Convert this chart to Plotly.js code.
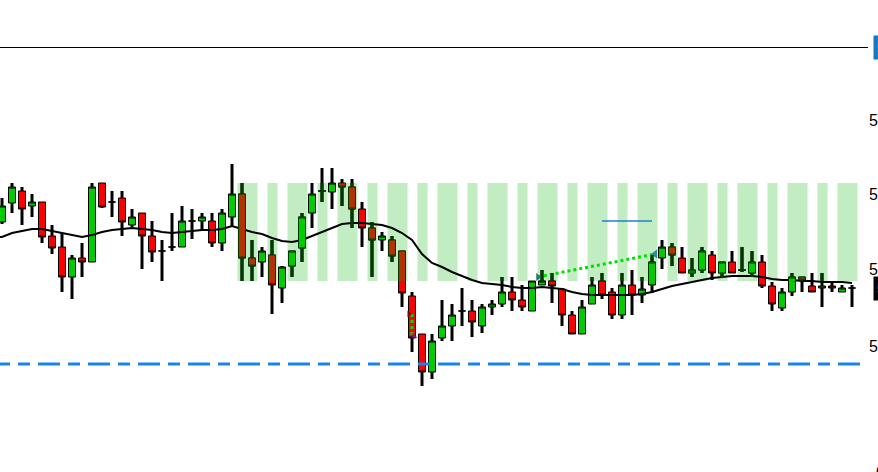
<!DOCTYPE html>
<html>
<head>
<meta charset="utf-8">
<script src="https://cdn.plot.ly/plotly-3.0.1.min.js"></script>
<style>
html,body{margin:0;padding:0;background:#ffffff;overflow:hidden;}
#chart{width:878px;height:472px;}
</style>
</head>
<body>
<div id="chart"></div>
<script>
// ---- data ----
const opens = [5.4778,5.4797,5.4809,5.4794,5.4798,5.4764,5.4753,5.4723,5.4742,5.4738,
  5.4817,5.4798,5.4802,5.4775,5.4787,5.4764,5.4749,5.4753,5.4753,5.4779,
  5.4779,5.4779,5.4757,5.4783,5.4806,5.4742,5.4738,5.4745,5.4712,5.4734,
  5.4752,5.4787,5.4809,5.4808,5.4817,5.4813,5.4791,5.4772,5.4760,5.4760,
  5.4749,5.4704,5.4666,5.4628,5.4662,5.4674,5.4689,5.4689,5.4674,5.4693,
  5.4696,5.4708,5.4700,5.4689,5.4715,5.4719,5.4711,5.4685,5.4666,5.4696,
  5.4719,5.4708,5.4685,5.4715,5.4705,5.4715,5.4742,5.4753,5.4742,5.4727,
  5.4730,5.4745,5.4727,5.4738,5.4730,5.4727,5.4738,5.4714,5.4692,5.4708,
  5.4723,5.4714,5.4712,5.4714,5.4708,5.4712];
const highs = [5.4802,5.4817,5.4813,5.4806,5.4798,5.4775,5.4767,5.4745,5.4757,5.4817,
  5.4817,5.4809,5.4809,5.4791,5.4787,5.4779,5.4760,5.4787,5.4794,5.4791,
  5.4787,5.4787,5.4791,5.4836,5.4817,5.4760,5.4753,5.4760,5.4734,5.4749,
  5.4787,5.4817,5.4832,5.4832,5.4821,5.4821,5.4798,5.4778,5.4768,5.4764,
  5.4749,5.4708,5.4666,5.4666,5.4700,5.4696,5.4712,5.4700,5.4696,5.4700,
  5.4723,5.4723,5.4715,5.4719,5.4730,5.4727,5.4712,5.4689,5.4700,5.4723,
  5.4727,5.4712,5.4727,5.4730,5.4723,5.4745,5.4760,5.4757,5.4753,5.4742,
  5.4753,5.4749,5.4738,5.4749,5.4753,5.4749,5.4745,5.4718,5.4712,5.4727,
  5.4723,5.4727,5.4727,5.4718,5.4715,5.4715];
const lows = [5.4776,5.4787,5.4775,5.4783,5.4757,5.4746,5.4708,5.4701,5.4723,5.4738,
  5.4792,5.4783,5.4764,5.4773,5.4731,5.4738,5.4719,5.4749,5.4753,5.4761,
  5.4770,5.4753,5.4749,5.4773,5.4719,5.4719,5.4723,5.4686,5.4697,5.4723,
  5.4738,5.4772,5.4798,5.4791,5.4794,5.4772,5.4753,5.4723,5.4749,5.4738,
  5.4693,5.4648,5.4614,5.4621,5.4659,5.4659,5.4674,5.4663,5.4667,5.4685,
  5.4693,5.4689,5.4689,5.4689,5.4715,5.4697,5.4674,5.4666,5.4666,5.4696,
  5.4701,5.4681,5.4681,5.4685,5.4697,5.4707,5.4731,5.4734,5.4727,5.4723,
  5.4727,5.4720,5.4722,5.4727,5.4728,5.4723,5.4712,5.4689,5.4689,5.4704,
  5.4708,5.4708,5.4693,5.4708,5.4708,5.4693];
const closes = [5.4794,5.4813,5.4791,5.4798,5.4763,5.4752,5.4723,5.4742,5.4738,5.4813,
  5.4793,5.4798,5.4778,5.4783,5.4764,5.4748,5.4749,5.4753,5.4779,5.4779,
  5.4783,5.4757,5.4787,5.4806,5.4742,5.4734,5.4749,5.4715,5.4733,5.4749,
  5.4783,5.4806,5.4809,5.4817,5.4813,5.4791,5.4772,5.4760,5.4764,5.4744,
  5.4707,5.4662,5.4628,5.4659,5.4674,5.4685,5.4689,5.4678,5.4693,5.4696,
  5.4708,5.4700,5.4693,5.4719,5.4719,5.4714,5.4685,5.4666,5.4693,5.4715,
  5.4705,5.4685,5.4715,5.4705,5.4711,5.4738,5.4753,5.4745,5.4727,5.4730,
  5.4749,5.4727,5.4738,5.4727,5.4730,5.4738,5.4714,5.4696,5.4708,5.4723,
  5.4720,5.4708,5.4714,5.4712,5.4712,5.4712];
const movingAvg = [5.4763,5.4767,5.4769,5.4771,5.4771,5.4769,5.4767,5.4765,5.4763,5.4765,
  5.4768,5.4770,5.4771,5.4772,5.4771,5.4770,5.4768,5.4767,5.4768,5.4769,
  5.4770,5.4770,5.4771,5.4774,5.4771,5.4768,5.4766,5.4762,5.4759,5.4758,
  5.4760,5.4764,5.4768,5.4772,5.4776,5.4777,5.4777,5.4776,5.4775,5.4772,
  5.4767,5.4760,5.4746,5.4737,5.4733,5.4728,5.4724,5.4720,5.4717,5.4716,
  5.4715,5.4713,5.4712,5.4712,5.4713,5.4712,5.4711,5.4708,5.4706,5.4705,
  5.4705,5.4705,5.4705,5.4705,5.4706,5.4708,5.4711,5.4714,5.4716,5.4718,
  5.4720,5.4722,5.4723,5.4724,5.4724,5.4724,5.4723,5.4721,5.4720,5.4720,
  5.4719,5.4719,5.4718,5.4718,5.4718,5.4717];
// shaded session columns: [first bar, last bar]
const bandGroups = [[24,25],[27,27],[29,30],[32,32],[34,35],[37,37],[39,40],[42,42],[44,45],
  [47,47],[49,50],[52,52],[54,55],[57,57],[59,60],[62,62],[64,65],[67,67],[69,70],[72,72],
  [74,75],[77,77],[79,80],[82,82],[84,85]];
const bandTop = 5.4817, bandBottom = 5.4719;
// levels and drawn objects
const topLevel = 5.49525;
const dashedLevel = 5.4636;
const shortLevelX = [60, 65], shortLevelY = [5.4779, 5.4779];
const trendX = [53.6, 65.3], trendY = [5.4723, 5.4746];
const vTrendX = [41, 41], vTrendY = [5.4686, 5.4664];
const lastPrice = 5.4712;
const tickVals = [5.4880, 5.4806, 5.4731, 5.4654];
const yRange = [5.4528, 5.5000];
const xRange = [-0.2, 86.6];

// ---- build ----
const idx = opens.map((_, i) => i);
const inBand = new Set();
bandGroups.forEach(g => { for (let k = g[0]; k <= g[1]; k++) inBand.add(k); });
const bIdx = idx.filter(i => inBand.has(i));

const GREEN = '#00cc00', RED = '#ff0000', BROWN = '#b33200', DARK = '#003a00';
const FONT = 'Liberation Sans, Arial, sans-serif';

function wickBars(list, color, yax) {
  return {type:'bar', x:list, base:list.map(i=>lows[i]), y:list.map(i=>highs[i]-lows[i]),
    width:0.3, marker:{color:color, line:{width:0}}, xaxis:'x', yaxis:yax, hoverinfo:'skip'};
}
function candles(list, lineColor, upFill, downFill, yax) {
  return {type:'candlestick', x:list, open:list.map(i=>opens[i]), high:list.map(i=>highs[i]),
    low:list.map(i=>lows[i]), close:list.map(i=>closes[i]), xaxis:'x', yaxis:yax,
    increasing:{line:{color:lineColor, width:1}, fillcolor:upFill},
    decreasing:{line:{color:lineColor, width:1}, fillcolor:downFill}, whiskerwidth:0};
}

const traces = [
  wickBars(idx, '#000000', 'y'),
  candles(idx, '#000000', GREEN, RED, 'y'),
  {type:'scatter', mode:'lines', x:[xRange[0]].concat(idx), y:[movingAvg[0]].concat(movingAvg), xaxis:'x', yaxis:'y',
   line:{color:'#000000', width:2}, hoverinfo:'skip'},
  {type:'scatter', mode:'lines', x:trendX, y:trendY, xaxis:'x', yaxis:'y',
   line:{color:'#00e000', width:3, dash:'3px,3px'}},
  {type:'scatter', mode:'lines', x:vTrendX, y:vTrendY, xaxis:'x', yaxis:'y',
   line:{color:'#00e000', width:3, dash:'3px,3px'}},
  {type:'scatter', mode:'markers', x:[trendX[0]], y:[trendY[0]], xaxis:'x', yaxis:'y',
   marker:{symbol:'triangle-right', size:7, color:'#1f7f6a'}},
  {type:'scatter', mode:'markers', x:[trendX[1]], y:[trendY[1]], xaxis:'x', yaxis:'y',
   marker:{symbol:'triangle-left', size:8, color:'#2a8a9a'}},
  {type:'scatter', mode:'markers', x:[vTrendX[0]-0.3], y:[vTrendY[0]], xaxis:'x', yaxis:'y',
   marker:{symbol:'triangle-right', size:6, color:'#8b0000'}},
  {type:'scatter', mode:'markers', x:[vTrendX[1]+0.2], y:[vTrendY[1]], xaxis:'x', yaxis:'y',
   marker:{symbol:'triangle-sw', size:6, color:'#7a1f8a'}},
  {type:'scatter', mode:'lines', x:shortLevelX, y:shortLevelY, xaxis:'x', yaxis:'y',
   line:{color:'#1e7fd6', width:1.5}},
  // candles re-drawn where the shaded columns tint them (clipped to the band height)
  wickBars(bIdx, DARK, 'y2'),
  candles(bIdx, DARK, GREEN, BROWN, 'y2')
];

const shapes = bandGroups.map(g => ({
  type:'rect', xref:'x', yref:'y', x0:g[0]-0.45, x1:g[1]+0.55, y0:bandBottom, y1:bandTop,
  fillcolor:'#c2ecc2', line:{width:0}, layer:'below'
}));
shapes.push({type:'line', xref:'paper', yref:'y', x0:0, x1:1, y0:topLevel, y1:topLevel,
  line:{color:'#000000', width:1}});
shapes.push({type:'line', xref:'x', yref:'y', x0:-1.4, x1:90, y0:dashedLevel, y1:dashedLevel,
  line:{color:'#1a84ec', width:3, dash:'22px,8px,12px,8px'}});

const H = 472;
const pxOf = p => (yRange[1] - p) / (yRange[1] - yRange[0]) * H;
const d0 = (H - pxOf(bandBottom)) / H, d1 = (H - pxOf(bandTop)) / H;

const layout = {
  width:878, height:472,
  margin:{l:0, r:10, t:0, b:0, pad:0},
  paper_bgcolor:'#ffffff', plot_bgcolor:'rgba(0,0,0,0)',
  font:{family:FONT, size:16, color:'#000000'},
  showlegend:false,
  hovermode:false,
  barmode:'overlay',
  xaxis:{range:xRange, visible:false, fixedrange:true, rangeslider:{visible:false}},
  yaxis:{range:yRange, side:'right', showgrid:false, zeroline:false, showline:false,
    ticks:'', tickvals:tickVals, tickformat:'.4f', automargin:false,
    tickfont:{family:FONT, size:16, color:'#000000'}, fixedrange:true},
  yaxis2:{domain:[d0, d1], range:[bandBottom, bandTop], anchor:'x', visible:false, fixedrange:true},
  boxgap:0.3, boxgroupgap:0,
  shapes:shapes,
  annotations:[
    {xref:'paper', x:1, xanchor:'left', xshift:5, yref:'y', y:topLevel, yanchor:'middle',
     text:topLevel.toFixed(4), showarrow:false, bgcolor:'#1479c4', borderpad:3,
     font:{family:FONT, size:16, color:'#ffffff'}},
    {xref:'paper', x:1, xanchor:'left', xshift:5, yref:'y', y:lastPrice, yanchor:'middle',
     text:lastPrice.toFixed(4), showarrow:false, bgcolor:'#000000', borderpad:3,
     font:{family:FONT, size:16, color:'#ffffff'}},
    {xref:'paper', x:1, xanchor:'left', xshift:6, yref:'paper', y:0, yanchor:'middle',
     text:'0.0000', showarrow:false,
     font:{family:FONT, size:16, color:'#000000'}}
  ]
};

Plotly.newPlot('chart', traces, layout, {displayModeBar:false});
</script>
</body>
</html>
